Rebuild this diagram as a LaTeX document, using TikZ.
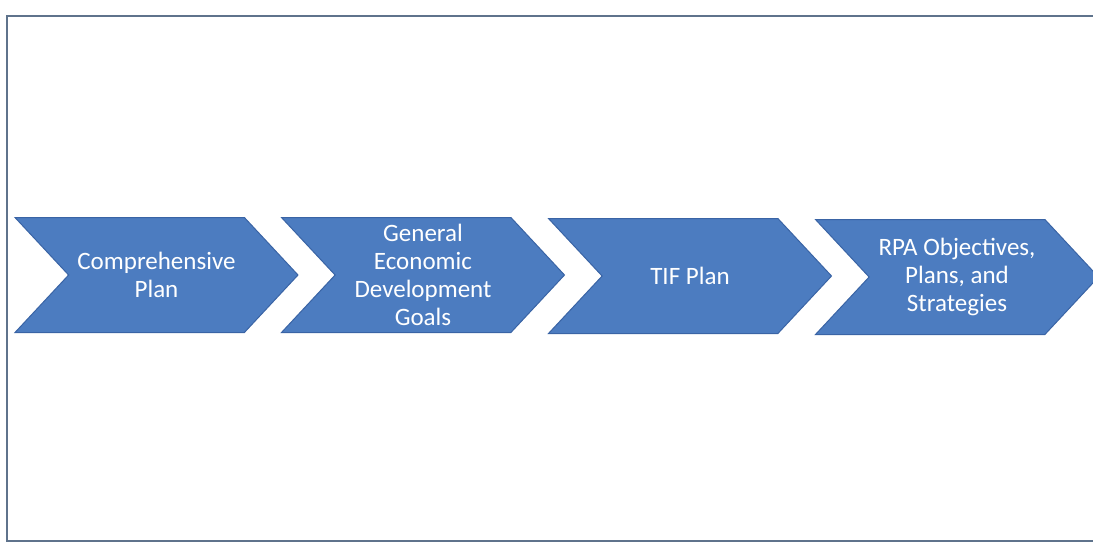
\documentclass[tikz,border=0pt]{standalone}
\usepackage{fontspec}
\setmainfont{Carlito}
\usetikzlibrary{shapes.symbols}
\usetikzlibrary{positioning}

\definecolor{chevblue}{RGB}{76,124,192}
\definecolor{chevedge}{RGB}{58,100,165}
\definecolor{framegray}{RGB}{95,115,140}

\begin{document}
\begin{tikzpicture}[
					x=1pt, y=-1pt,
					chev/.style={signal, signal from=west, signal to=east, signal pointer angle=94,
						draw=chevedge, fill=chevblue, line width=1pt, text=white, align=center,
						minimum width=283pt, minimum height=115pt, inner sep=0pt,
						font=\fontsize{25}{28}\selectfont}
				]
					\useasboundingbox (0,0) rectangle (1093,542);
					\draw[framegray, line width=1.2pt] (1093,16) -- (7,16) -- (7,541) -- (1093,541);
					\node[chev] (comp) at (156.5,275) {Comprehensive\\Plan};
					\node[chev] (goals) at (423,275) {General\\Economic\\Development\\Goals};
					\node[chev] (tif) at (690,276) {TIF Plan};
					\node[chev] (rpa) at (957,277) {RPA Objectives,\\Plans, and\\Strategies};
				\end{tikzpicture}
\end{document}
